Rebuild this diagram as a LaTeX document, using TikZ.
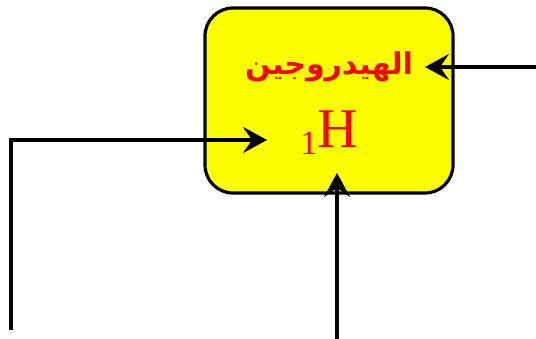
\documentclass[tikz,border=0pt]{standalone}
\usepackage{fontspec}
\setmainfont{Liberation Serif}
\newfontfamily\arabicfont[Script=Arabic]{DejaVu Sans}
\TeXXeTstate=1
\usetikzlibrary{arrows.meta}
\definecolor{pureyellow}{RGB}{255,255,0}
\definecolor{purered}{RGB}{255,0,0}
\tikzset{
  conn/.style={line width=3.2pt, -{Stealth[length=24pt,width=26pt,inset=9pt]}},
  box/.style={draw=black, line width=3.2pt, fill=pureyellow, rounded corners=28pt}
}
\begin{document}
\begin{tikzpicture}[x=1pt,y=-1pt]
\useasboundingbox (0,0) rectangle (536,339);
\draw[box] (205,8) rectangle (453,193);
\node[text=purered, inner sep=0pt] (name) at (329,67) {\fontsize{30}{36}\selectfont\arabicfont\bfseries\beginR الهيدروجين\endR};
\node[text=purered, inner sep=0pt, anchor=base] (sym) at (329,148) {\fontsize{56}{60}\selectfont\raisebox{-7pt}{\fontsize{34}{40}\selectfont 1}H};
\coordinate (rin) at (536,67);
\coordinate (rtip) at (425,67);
\coordinate (lstart) at (11,330);
\coordinate (lcorner) at (11,140);
\coordinate (ltip) at (267,140);
\coordinate (bstart) at (337,339);
\coordinate (btip) at (337,173);
\draw[conn] (rin) -- (rtip);
\draw[conn] (lstart) -- (lcorner) -- (ltip);
\draw[conn] (bstart) -- (btip);
\end{tikzpicture}
\end{document}
